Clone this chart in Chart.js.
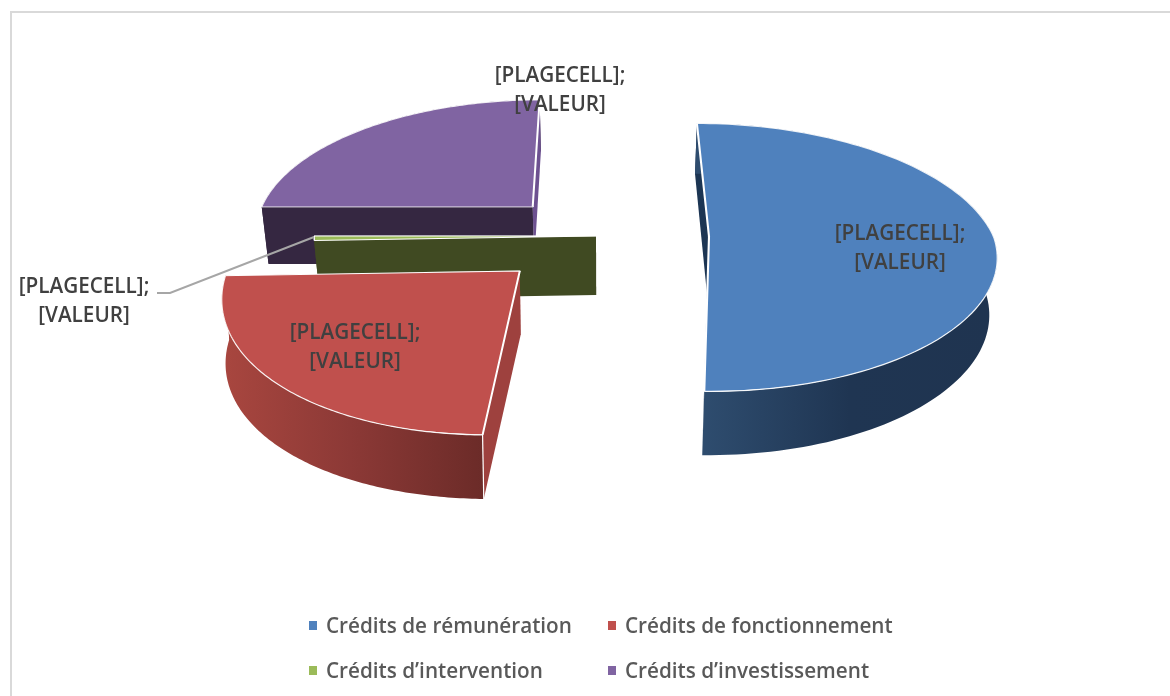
<!DOCTYPE html>
<html>
<head>
<meta charset="utf-8">
<style>
html,body{margin:0;padding:0;background:#fff;}
#frame{position:absolute;left:10px;top:11px;right:0;bottom:0;border-left:2px solid #d9d9d9;border-top:2px solid #d9d9d9;}
#wrap{position:absolute;left:0;top:0;width:1170px;height:696px;}
canvas{filter:blur(0.45px);}
</style>
</head>
<body>
<div id="frame"></div>
<div id="wrap"><canvas id="c" width="1170" height="696"></canvas></div>
<script src="https://cdn.jsdelivr.net/npm/chart.js@4/dist/chart.umd.js"></script>
<script>
// ---- data ----
const categories = ['Crédits de rémunération', 'Crédits de fonctionnement', 'Crédits d’intervention', 'Crédits d’investissement'];
const shares = [50.3, 24.2, 0.5, 25.0];
const dataLabelLines = ['[PLAGECELL];', '[VALEUR]'];

// ---- styles ----
const topColors = ['#4f81bd', '#c0504d', '#9bbb59', '#8064a2'];
const startFaceColors = ['#1c3553', '#9e413e', '#404a22', '#352741'];
const endFaceColors = ['#1c3553', '#9e413e', '#404a22', '#6d5190'];
const wallStops = [
  [[706, '#2e4c6e'], [850, '#1f3552'], [995, '#1f3450']],
  [[225, '#a8463f'], [350, '#8c3936'], [485, '#6b2b28']],
  [[300, '#404a22'], [600, '#404a22']],
  [[260, '#352741'], [540, '#352741']]
];
const drawOrder = [3, 2, 1, 0];
const wallBeforeFaces = [false, false, false, true];

// ---- pseudo-3D projection ----
const pieRadius = 285;
const centerX = 602, centerY = 236, explodeFlatten = 0.42;
const explode = [107, 117, 6, 98];
const rimWidth = [288, 294, 282, 275];
const rimHeight = [134, 150, 140, 129];
const rimDrop = [21, 14, 0, 22];
const leanBack = [0.107, 0, 0, -0.065];
const leanFront = [0.01, -0.19, 0, 0];
const baseDepth = [56, 64, 59, 57];
const depthGrowth = [0.05, 0, 0, 0.05];
const wallTaper = [0.02, 0.01, 0.02, 0.02];

// ---- text placement ----
const labelCenters = [[900, 249], [355, 348], [84, 302], [560, 91]];
const labelLineGap = 29;
const leader = [[157, 293], [170, 293], [314, 237]];
const legendMarkerX = [309, 608], legendRowY = [627, 672], legendTextGap = 17;

function apexOf(i, arc) {
  const mid = (arc.startAngle + arc.endAngle) / 2;
  return [centerX + explode[i] * Math.cos(mid), centerY + explode[i] * explodeFlatten * Math.sin(mid)];
}
// where the ray leaving the apex at angle t meets the projected rim ellipse
function rimPoint(i, apex, t) {
  const c = rimDrop[i] / rimHeight[i], sinT = Math.sin(t);
  const s = c * sinT + Math.sqrt(c * c * sinT * sinT - c * c + 1);
  const Y = rimHeight[i] * s * sinT;
  const X = rimWidth[i] * s * Math.cos(t) + (Y < 0 ? leanBack[i] : leanFront[i]) * Y;
  return [apex[0] + X, apex[1] + Y, Y];
}
function lower(i, p) {
  const d = baseDepth[i] + depthGrowth[i] * p[2];
  return [p[0] + (centerX - p[0]) * wallTaper[i], p[1] + d];
}
function trace(ctx, pts) {
  ctx.beginPath();
  pts.forEach((p, k) => k ? ctx.lineTo(p[0], p[1]) : ctx.moveTo(p[0], p[1]));
}

const pie3d = {
  id: 'pie3d',
  beforeDatasetsDraw(chart) {
    const ctx = chart.ctx, arcs = chart.getDatasetMeta(0).data;
    drawOrder.forEach(i => {
      const arc = arcs[i], apex = apexOf(i, arc);
      const a0 = arc.startAngle, a1 = arc.endAngle;
      const apexPt = [apex[0], apex[1], 0], s = rimPoint(i, apex, a0), e = rimPoint(i, apex, a1);
      const quad = (p, q, col) => {
        trace(ctx, [p, q, lower(i, q), lower(i, p)]);
        ctx.closePath(); ctx.fillStyle = col; ctx.fill();
      };
      const n = 120, topRim = [], botRim = [], ring = [];
      for (let k = 0; k <= n; k++) {
        const p = rimPoint(i, apex, a0 + (a1 - a0) * k / n);
        topRim.push(p); botRim.push(lower(i, p));
      }
      for (let k = 0; k < 240; k++) ring.push(rimPoint(i, apex, Math.PI * 2 * k / 240));
      const stops = wallStops[i], x0 = stops[0][0], x1 = stops[stops.length - 1][0];
      const g = ctx.createLinearGradient(x0, 0, x1, 0);
      stops.forEach(st => g.addColorStop((st[0] - x0) / (x1 - x0), st[1]));
      const wall = () => {
        trace(ctx, topRim.concat(botRim.slice().reverse()));
        ctx.closePath(); ctx.fillStyle = g; ctx.fill();
      };
      if (wallBeforeFaces[i]) wall();
      quad(apexPt, e, endFaceColors[i]);
      quad(apexPt, s, startFaceColors[i]);
      if (!wallBeforeFaces[i]) wall();
      if (i === 1) {
        trace(ctx, [s, lower(i, s)]);
        ctx.strokeStyle = '#fff'; ctx.lineWidth = 1.2; ctx.stroke();
      }
      // top surface: the library's arc element, mapped on the apex and cut to the rim
      const grow = 1 + rimDrop[i] / rimHeight[i];
      const sx = rimWidth[i] * grow / pieRadius, ky = rimHeight[i] * grow / pieRadius;
      [[0, apex[1] + 0.5, leanBack[i]], [apex[1] - 0.5, chart.height, leanFront[i]]].forEach(h => {
        ctx.save();
        ctx.beginPath(); ctx.rect(0, h[0], chart.width, h[1] - h[0]); ctx.clip();
        trace(ctx, ring); ctx.closePath(); ctx.clip();
        ctx.transform(sx, 0, h[2] * ky, ky, apex[0] - sx * arc.x - h[2] * ky * arc.y, apex[1] - ky * arc.y);
        arc.draw(ctx);
        ctx.restore();
      });
      trace(ctx, topRim);
      ctx.strokeStyle = 'rgba(255,255,255,0.9)'; ctx.lineWidth = 1.2; ctx.stroke();
    });
    return false;
  },
  afterDraw(chart) {
    const ctx = chart.ctx;
    trace(ctx, leader);
    ctx.strokeStyle = '#a6a6a6'; ctx.lineWidth = 2; ctx.stroke();
    ctx.font = '600 20.7px "Open Sans"';
    ctx.fillStyle = '#404040'; ctx.textAlign = 'center'; ctx.textBaseline = 'middle';
    labelCenters.forEach(c => {
      dataLabelLines.forEach((t, l) => ctx.fillText(t, c[0], c[1] + (l - 0.5) * labelLineGap));
    });
    ctx.textAlign = 'left';
    chart.data.labels.forEach((t, i) => {
      const x = legendMarkerX[i % 2], y = legendRowY[i >> 1];
      ctx.fillStyle = topColors[i];
      ctx.fillRect(x, y - 6, 8, 9);
      ctx.fillStyle = '#595959';
      ctx.fillText(t, x + legendTextGap, y);
    });
  }
};

new Chart(document.getElementById('c'), {
  type: 'pie',
  data: {
    labels: categories,
    datasets: [{ data: shares, backgroundColor: topColors, borderColor: '#ffffff', borderWidth: 1.8 }]
  },
  options: {
    responsive: false,
    animation: false,
    radius: pieRadius,
    rotation: 0,
    layout: { padding: 0 },
    events: [],
    plugins: { legend: { display: false }, tooltip: { enabled: false }, title: { display: false } }
  },
  plugins: [pie3d]
});
</script>
</body>
</html>
